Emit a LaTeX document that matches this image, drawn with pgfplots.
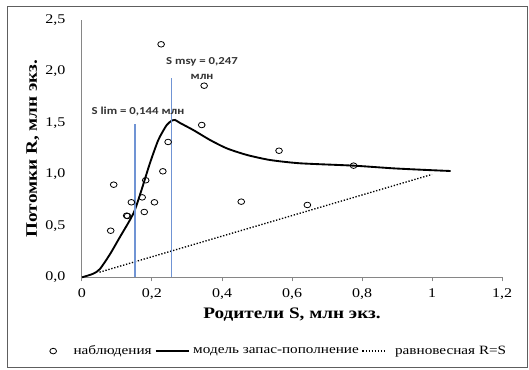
\documentclass[border=0pt]{standalone}
\usepackage{fontspec}
\setmainfont{Liberation Serif}[FakeStretch=1.2]
\newfontfamily\calib{Carlito}[FakeStretch=1.2]
\usepackage{pgfplots}
\pgfplotsset{compat=1.18}
\definecolor{vline}{RGB}{112,148,212}
\definecolor{axgray}{RGB}{134,134,134}
\pgfplotsset{
  markleg/.style={legend image code/.code={\path[draw=none] (0pt,0pt) -- (12.75pt,0pt);
     \draw[##1] plot[only marks] coordinates {(0pt,0pt)};}},
  solidleg/.style={legend image code/.code={\draw[##1] (0pt,0pt) -- (25pt,0pt);}},
  dotleg/.style={legend image code/.code={\path[draw=none] (0pt,0pt) -- (22pt,0pt); \draw[##1] (0pt,0pt) -- (17pt,0pt);}},
}
\begin{document}
\begin{tikzpicture}
\useasboundingbox (-61.5pt,-68.8pt) rectangle (335.25pt,208pt);
\draw[axgray!70!black, line width=0.75pt] (-55.5pt,-67.8pt) rectangle (333.75pt,203.5pt);
\begin{axis}[
  at={(0,0)}, anchor=south west,
  scale only axis, width=315pt, height=193pt,
  xmin=0, xmax=1.2, ymin=0, ymax=2.5,
  axis lines=left, axis line style={axgray, -, line width=0.75pt},
  xtick={0,0.2,0.4,0.6,0.8,1,1.2},
  ytick={0,0.5,1,1.5,2,2.5},
  tick align=outside,
  major tick length=3pt,
  xtick style={axgray, line width=0.75pt},
  ytick style={draw=none},
  xticklabel={\pgfmathprintnumber[fixed,precision=1,use comma,assume math mode=true]{\tick}},
  yticklabel={\pgfmathprintnumber[fixed,fixed zerofill,precision=1,use comma,assume math mode=true]{\tick}},
  xticklabel style={font=\fontsize{10}{12}\selectfont, yshift=-2pt},
  yticklabel style={font=\fontsize{10}{12}\selectfont, xshift=-6pt},
  xlabel={Родители S, млн экз.},
  ylabel={Потомки R, млн экз.},
  xlabel style={font=\fontsize{12}{14}\selectfont\bfseries, at={(axis description cs:0.5,-0.1466)}, anchor=center},
  ylabel style={font=\fontsize{12}{14}\selectfont\bfseries, at={(axis description cs:-0.1167,0.5)}, anchor=center},
  legend style={at={(0.4667,-0.2865)}, anchor=center, draw=none, fill=none,
    font=\fontsize{9.5}{11}\selectfont,
    nodes={inner xsep=0pt},
    /tikz/every even column/.append style={column sep=2.25pt},
    /tikz/every odd column/.append style={column sep=2.5pt}},
  legend columns=3,
  clip=false,
]
\addplot[only marks, mark=o, mark size=2.1pt, mark options={xscale=1.2, line width=0.6pt, black}, markleg] coordinates {
(0.082,0.453) (0.0906,0.900) (0.1276,0.599) (0.130,0.596) (0.141,0.729)
(0.172,0.777) (0.182,0.943) (0.178,0.635) (0.207,0.729) (0.231,1.030)
(0.246,1.315) (0.226,2.264) (0.349,1.862) (0.342,1.480) (0.455,0.735)
(0.563,1.230) (0.644,0.703) (0.776,1.085)
};
\addlegendentry{наблюдения}
\addplot[black, line width=1.4pt, smooth, tension=0.4, solidleg] coordinates {
(0,0) (0.032,0.035) (0.051,0.08) (0.08,0.225) (0.109,0.395) (0.137,0.557)
(0.151,0.654) (0.170,0.848) (0.194,1.108) (0.218,1.334) (0.242,1.48)
(0.258,1.525) (0.266,1.529) (0.28,1.50) (0.318,1.431) (0.366,1.334)
(0.413,1.254) (0.47,1.19) (0.537,1.14) (0.623,1.108) (0.776,1.085)
(0.889,1.059) (0.985,1.043) (1.053,1.033)
};
\addlegendentry{модель запас-пополнение}
\addplot[black, line width=1pt, dash pattern=on 1pt off 1.3pt, dotleg] coordinates {
(0.05,0.05) (1,1)
};
\addlegendentry{равновесная R=S}
\addplot[vline, line width=0.8pt, forget plot] coordinates {(0.1514,0) (0.1514,1.49)};
\addplot[vline, line width=0.8pt, forget plot] coordinates {(0.257,0) (0.257,1.94)};
\node[font=\calib\bfseries\fontsize{8}{10}\selectfont, text=black!80] at (axis cs:0.16,1.616) {S lim = 0,144 млн};
\node[font=\calib\bfseries\fontsize{8}{11.25}\selectfont, text=black!80, align=center] at (axis cs:0.343,2.03) {S msy = 0,247\\млн};
\end{axis}
\end{tikzpicture}
\end{document}
